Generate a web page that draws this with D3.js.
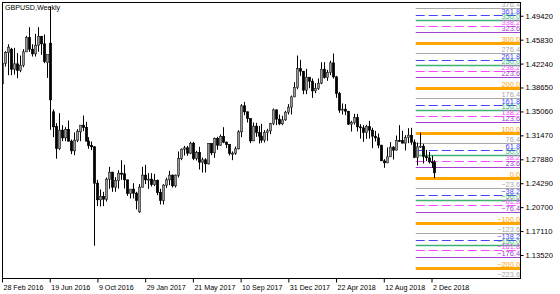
<!DOCTYPE html>
<html>
<head>
<meta charset="utf-8">
<script src="https://cdn.jsdelivr.net/npm/d3@7"></script>
<style>
html,body{margin:0;padding:0;background:#fff;}
svg text{font-family:"Liberation Sans",Arial,sans-serif;}
</style>
</head>
<body>
<script>
// ---------- DATA ----------
const symbolTitle = "GBPUSD,Weekly";
const firstWeek = "2016-02-28";           // week start of the first candle
const open  = [1.3920,1.4230,1.4390,1.4440,1.4140,1.4220,1.4120,1.4200,1.4400,1.4615,1.4440,1.4370,1.4500,1.4630,1.4520,1.4240,1.4530,1.3500,1.3280,1.2950,1.3225,1.3110,1.3235,1.3060,1.2915,1.3075,1.3200,1.3300,1.3265,1.3060,1.2995,1.2975,1.2430,1.2180,1.2230,1.2190,1.2490,1.2595,1.2370,1.2470,1.2580,1.2570,1.2480,1.2275,1.2340,1.2280,1.2000,1.2370,1.2550,1.2480,1.2490,1.2410,1.2470,1.2290,1.2170,1.2400,1.2480,1.2550,1.2390,1.2550,1.2800,1.2940,1.2960,1.2880,1.3030,1.2800,1.2890,1.2745,1.2780,1.2720,1.3025,1.2885,1.3100,1.3000,1.3130,1.3045,1.3010,1.2875,1.2880,1.2945,1.3200,1.3590,1.3500,1.3400,1.3065,1.3285,1.3190,1.3135,1.3075,1.3190,1.3215,1.3325,1.3530,1.3390,1.3320,1.3380,1.3495,1.3570,1.3725,1.3865,1.4150,1.4110,1.3825,1.4020,1.3960,1.3815,1.3850,1.3930,1.4140,1.4015,1.4090,1.4235,1.4025,1.3775,1.3525,1.3540,1.3510,1.3315,1.3340,1.3415,1.3275,1.3260,1.3190,1.3280,1.3225,1.3135,1.3110,1.3000,1.2765,1.2735,1.2825,1.2970,1.2925,1.3070,1.3070,1.3030,1.3115,1.3150,1.3045,1.2815,1.2975,1.2985,1.2830,1.2810,1.2750,1.2745];
const high  = [1.4245,1.4410,1.4515,1.4460,1.4460,1.4380,1.4345,1.4440,1.4640,1.4770,1.4515,1.4670,1.4770,1.4640,1.4660,1.4355,1.5080,1.3535,1.3330,1.3480,1.3300,1.3270,1.3370,1.3085,1.3190,1.3240,1.3300,1.3445,1.3350,1.3120,1.3055,1.2985,1.2480,1.2335,1.2300,1.2515,1.2675,1.2600,1.2520,1.2625,1.2775,1.2705,1.2480,1.2340,1.2430,1.2300,1.2415,1.2675,1.2705,1.2580,1.2580,1.2570,1.2485,1.2345,1.2415,1.2510,1.2615,1.2560,1.2560,1.2905,1.2950,1.2990,1.2990,1.3050,1.3050,1.2915,1.2975,1.2815,1.2805,1.3030,1.3030,1.3115,1.3125,1.3160,1.3270,1.3055,1.3010,1.2905,1.2980,1.3225,1.3615,1.3650,1.3505,1.3400,1.3340,1.3335,1.3290,1.3320,1.3225,1.3245,1.3335,1.3550,1.3535,1.3460,1.3440,1.3515,1.3615,1.3745,1.3945,1.4345,1.4280,1.4110,1.4145,1.4020,1.4000,1.3930,1.4000,1.4245,1.4245,1.4130,1.4265,1.4375,1.4040,1.3800,1.3625,1.3615,1.3510,1.3365,1.3470,1.3470,1.3315,1.3300,1.3305,1.3365,1.3260,1.3215,1.3175,1.3005,1.2790,1.2965,1.3045,1.2985,1.3145,1.3300,1.3215,1.3150,1.3255,1.3260,1.3085,1.3040,1.3187,1.3020,1.2930,1.2900,1.2840,1.2775];
const low   = [1.3835,1.4180,1.4050,1.4050,1.4060,1.4005,1.4095,1.4170,1.4400,1.4400,1.4330,1.4330,1.4400,1.4355,1.4230,1.4010,1.3230,1.3120,1.2798,1.2930,1.3060,1.3060,1.3055,1.2865,1.2850,1.3045,1.3060,1.3210,1.3120,1.2945,1.2925,1.1491,1.2085,1.2080,1.2085,1.2155,1.2345,1.2300,1.2300,1.2350,1.2480,1.2350,1.2240,1.2200,1.2200,1.2035,1.1985,1.2365,1.2415,1.2345,1.2380,1.2385,1.2250,1.2110,1.2110,1.2360,1.2400,1.2365,1.2365,1.2515,1.2775,1.2845,1.2840,1.2865,1.2775,1.2770,1.2635,1.2590,1.2590,1.2710,1.2850,1.2810,1.2930,1.2990,1.3030,1.2955,1.2845,1.2775,1.2855,1.2935,1.3120,1.3450,1.3340,1.3030,1.3060,1.3125,1.3025,1.3035,1.3040,1.3065,1.3165,1.3300,1.3300,1.3300,1.3300,1.3365,1.3460,1.3460,1.3720,1.3840,1.4040,1.3765,1.3765,1.3855,1.3710,1.3780,1.3830,1.3915,1.4000,1.3965,1.4050,1.4000,1.3710,1.3485,1.3460,1.3450,1.3305,1.3205,1.3310,1.3205,1.3100,1.3050,1.3095,1.3100,1.2955,1.3055,1.2955,1.2765,1.2660,1.2730,1.2825,1.2785,1.2920,1.3055,1.3030,1.2920,1.3030,1.3005,1.2805,1.2695,1.2960,1.2725,1.2760,1.2725,1.2660,1.2505];
const close = [1.4230,1.4390,1.4470,1.4140,1.4220,1.4120,1.4200,1.4400,1.4615,1.4440,1.4370,1.4500,1.4630,1.4520,1.4255,1.4360,1.3680,1.3275,1.2950,1.3225,1.3110,1.3235,1.3060,1.2915,1.3075,1.3210,1.3300,1.3265,1.3060,1.2995,1.2975,1.2430,1.2180,1.2230,1.2190,1.2490,1.2595,1.2370,1.2470,1.2580,1.2570,1.2480,1.2275,1.2340,1.2280,1.2170,1.2370,1.2550,1.2480,1.2490,1.2410,1.2470,1.2290,1.2170,1.2400,1.2480,1.2550,1.2390,1.2550,1.2800,1.2940,1.2960,1.2880,1.3030,1.2800,1.2890,1.2745,1.2780,1.2720,1.3025,1.2885,1.3100,1.3000,1.3130,1.3045,1.3010,1.2875,1.2880,1.2945,1.3200,1.3590,1.3500,1.3400,1.3065,1.3285,1.3190,1.3135,1.3075,1.3190,1.3215,1.3325,1.3530,1.3390,1.3320,1.3380,1.3495,1.3570,1.3725,1.3865,1.4150,1.4110,1.3825,1.4020,1.3960,1.3815,1.3850,1.3930,1.4140,1.4015,1.4090,1.4235,1.4025,1.3775,1.3525,1.3540,1.3510,1.3315,1.3340,1.3415,1.3275,1.3260,1.3190,1.3280,1.3225,1.3135,1.3110,1.3000,1.2765,1.2735,1.2825,1.2970,1.2925,1.3070,1.3065,1.3030,1.3115,1.3150,1.3045,1.2815,1.2975,1.2985,1.2830,1.2810,1.2750,1.2745,1.2585];

const priceTicks = [1.49420,1.45830,1.42240,1.38650,1.35060,1.31470,1.27880,1.24290,1.20700,1.17110,1.13520];
const dateTicks  = ["2016-02-28","2016-06-19","2016-10-09","2017-01-29","2017-05-21","2017-09-10","2017-12-31","2018-04-22","2018-08-12","2018-12-02"];

// Fibonacci expansion
const fibPrice0   = 1.2512;   // level 0.0
const fibPrice100 = 1.3187;   // level 100.0
const fibStartWeek = "2018-10-26";
const fibLevels = [-223.6,-200,-176.4,-161.8,-150,-138.2,-123.6,-100,-76.4,-61.8,-50,-38.2,-23.6,0,23.6,38.2,50,61.8,76.4,100,123.6,138.2,150,161.8,176.4,200,223.6,238.2,250,261.8,276.4,300,323.6,338.2,350,361.8,376.4];

// ---------- LAYOUT ----------
const W = 560, H = 294;
const plot = {left: 2, right: 521, top: 2, bottom: 278};

const parse = d3.utcParse("%Y-%m-%d");
const t0 = parse(firstWeek);
const weeks = open.map((_, i) => d3.utcWeek.offset(t0, i));
const bars = weeks.map((d, i) => ({date: d, o: open[i], h: high[i], l: low[i], c: close[i]}));

const x = d3.scaleUtc()
  .domain([parse("2016-02-28"), parse("2018-12-02")])
  .range([2, 431.5]);
const y = d3.scaleLinear()
  .domain([1.1007, 1.5148])
  .range([plot.bottom, plot.top]);

const svg = d3.select("body").append("svg")
  .attr("width", W).attr("height", H);

svg.append("defs").append("clipPath").attr("id", "clip")
  .append("rect").attr("x", plot.left).attr("y", plot.top)
  .attr("width", plot.right - plot.left).attr("height", plot.bottom - plot.top);

const g = svg.append("g").attr("clip-path", "url(#clip)");

// ---------- FIBO ----------
function fibStyle(lv) {
  let f = ((lv % 100) + 100) % 100;
  f = Math.round(f * 10) / 10;
  if (f === 0)    return {c: "#FFA500", w: 3,   dash: null};
  if (f === 23.6) return {c: "#A040D0", w: 1.2, dash: null};
  if (f === 38.2) return {c: "#FF44FF", w: 1,   dash: "9,4"};
  if (f === 50)   return {c: "#3CB371", w: 1.6, dash: null};
  if (f === 61.8) return {c: "#4444FF", w: 1,   dash: "9,4"};
  return {c: "#A8A8A8", w: 1, dash: null};
}
const fibPrice = lv => fibPrice0 + (fibPrice100 - fibPrice0) * lv / 100;
const fx0 = x(parse(fibStartWeek));

const fg = g.append("g");
fg.selectAll("line").data(fibLevels).join("line")
  .attr("x1", fx0).attr("x2", plot.right)
  .attr("y1", d => Math.round(y(fibPrice(d))) + 0.5)
  .attr("y2", d => Math.round(y(fibPrice(d))) + 0.5)
  .attr("stroke", d => fibStyle(d).c)
  .attr("stroke-width", d => fibStyle(d).w)
  .attr("stroke-dasharray", d => fibStyle(d).dash);
fg.selectAll("text").data(fibLevels).join("text")
  .attr("x", plot.right - 1)
  .attr("y", d => Math.round(y(fibPrice(d))) - 1)
  .attr("text-anchor", "end")
  .attr("font-size", 7.4)
  .attr("fill", d => fibStyle(d).c)
  .text(d => d3.format(".1f")(d));

// ---------- CANDLES ----------
const cg = g.append("g");
cg.selectAll("line").data(bars).join("line")
  .attr("x1", d => Math.round(x(d.date)) + 0.5)
  .attr("x2", d => Math.round(x(d.date)) + 0.5)
  .attr("y1", d => y(d.h)).attr("y2", d => y(d.l))
  .attr("stroke", "#000").attr("stroke-width", 1);
cg.selectAll("rect").data(bars).join("rect")
  .attr("x", d => Math.round(x(d.date)) - 0.7)
  .attr("width", 2.4)
  .attr("y", d => y(Math.max(d.o, d.c)))
  .attr("height", d => Math.max(1, Math.abs(y(d.o) - y(d.c))))
  .attr("fill", d => d.c >= d.o ? "#9a9a9a" : "#000")
  .attr("stroke", d => d.c >= d.o ? "#222" : "#000")
  .attr("stroke-width", 0.6);

// ---------- FRAME ----------
svg.append("rect")
  .attr("x", plot.left + 0.5).attr("y", plot.top + 0.5)
  .attr("width", plot.right - plot.left - 1).attr("height", plot.bottom - plot.top)
  .attr("fill", "none").attr("stroke", "#000").attr("stroke-width", 1);

// ---------- AXES ----------
const yAxis = d3.axisRight(y).tickValues(priceTicks)
  .tickFormat(d3.format(".5f")).tickSize(3).tickPadding(2);
const ya = svg.append("g").attr("transform", `translate(${plot.right - 0.5},0)`).call(yAxis);
ya.select(".domain").remove();
ya.selectAll("text").attr("font-size", 7.6).attr("fill", "#000")
  .style("font-family", "'Liberation Sans',Arial,sans-serif");
ya.selectAll("line").attr("stroke", "#000");

const xAxis = d3.axisBottom(x).tickValues(dateTicks.map(parse))
  .tickFormat(d3.utcFormat("%-d %b %Y")).tickSize(4).tickPadding(2);
const xa = svg.append("g").attr("transform", `translate(0,${plot.bottom + 0.5})`).call(xAxis);
xa.select(".domain").remove();
xa.selectAll("text").attr("font-size", 7.1).attr("fill", "#000")
  .attr("text-anchor", "start").attr("dx", 1)
  .style("font-family", "'Liberation Sans',Arial,sans-serif");
xa.selectAll("line").attr("stroke", "#000");

// ---------- TITLE ----------
svg.append("text").attr("x", 5).attr("y", 10)
  .attr("font-size", 7.1).attr("fill", "#000")
  .text(symbolTitle);
</script>
</body>
</html>
